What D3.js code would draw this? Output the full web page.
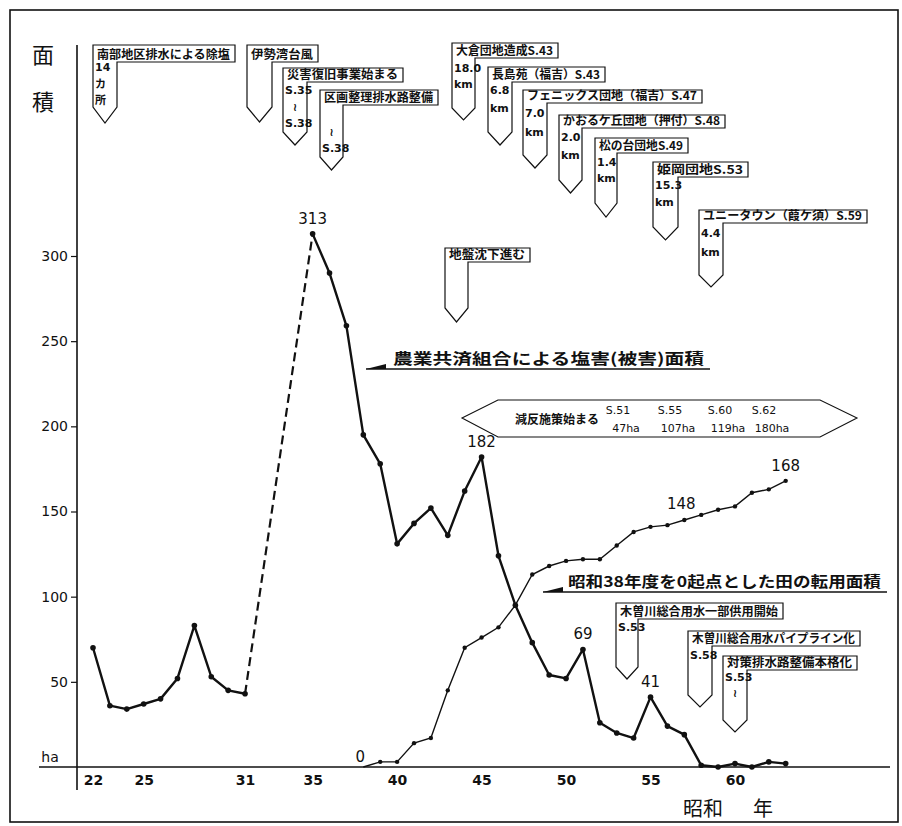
<!DOCTYPE html>
<html>
<head>
<meta charset="utf-8">
<script src="https://cdn.jsdelivr.net/npm/d3@7"></script>
<style>
  body { margin: 0; background: #fff; }
  svg { display: block; }
</style>
</head>
<body>
<div class="vis-chart"></div>
<script>
// 農業共済組合による塩害(被害)面積 (ha) -- 32~34年はデータなし(破線)
const damageYears = [22,23,24,25,26,27,28,29,30,31,
  35,36,37,38,39,40,41,42,43,44,45,46,47,48,49,50,51,52,53,54,55,56,57,58,59,60,61,62,63];
const damageValues = [70,36,34,37,40,52,83,53,45,43,
  313,290,259,195,178,131,143,152,136,162,182,124,95,73,54,52,69,26,20,17,41,24,19,1,0,2,0,3,2];

// 昭和38年度を0起点とした田の転用面積 (ha)
const convYears = [38,39,40,41,42,43,44,45,46,47,48,49,50,51,52,53,54,55,56,57,58,59,60,61,62,63];
const convValues = [0,3,3,14,17,45,70,76,82,95,113,118,121,122,122,130,138,141,142,145,148,151,153,161,163,168];

// 数値ラベルを付ける年
const damageLabelYears = [35,45,51,55];
const convLabelYears = [38,58,63];

const xTickYears = [22,25,31,35,40,45,50,55,60];
const yTickValues = [50,100,150,200,250,300];

// 減反
const gentanYears = ['S.51','S.55','S.60','S.62'];
const gentanAreas = ['47ha','107ha','119ha','180ha'];

// できごとの旗 (位置はレイアウト)
const flags = [
  {t:'南部地区排水による除塩', L:93, T:45, R:235, B:62, tr:117, tb:107, tip:123, rows:['14','カ','所'], ry:[71,88,104]},
  {t:'伊勢湾台風', L:247, T:45, R:318, B:62, tr:272, tb:107, tip:122, rows:[], ry:[]},
  {t:'災害復旧事業始まる', L:283, T:68, R:403, B:82, tr:307, tb:132, tip:145, rows:['S.35','≀','S.38'], ry:[94,111,127]},
  {t:'区画整理排水路整備', L:320, T:90, R:438, B:105, tr:343, tb:157, tip:170, rows:['≀','S.38'], ry:[136,152]},
  {t:'大倉団地造成S.43', L:452, T:43, R:558, B:58, tr:475, tb:108, tip:120, rows:['18.0','km'], ry:[72,88]},
  {t:'長島苑（福吉）S.43', L:488, T:67, R:605, B:82, tr:512, tb:132, tip:145, rows:['6.8','km'], ry:[94,112]},
  {t:'フェニックス団地（福吉）S.47', L:523, T:90, R:702, B:103, tr:547, tb:155, tip:168, rows:['7.0','km'], ry:[117,136]},
  {t:'かおるケ丘団地（押付）S.48', L:559, T:115, R:725, B:128, tr:582, tb:180, tip:193, rows:['2.0','km'], ry:[141,159]},
  {t:'松の台団地S.49', L:595, T:138, R:688, B:153, tr:617, tb:203, tip:217, rows:['1.4','km'], ry:[166,182]},
  {t:'姫岡団地S.53', L:653, T:162, R:748, B:177, tr:678, tb:227, tip:240, rows:['15.3','km'], ry:[189,206]},
  {t:'ユニータウン（葭ケ須）S.59', L:699, T:210, R:867, B:223, tr:723, tb:275, tip:287, rows:['4.4','km'], ry:[237,256]},
  {t:'地盤沈下進む', L:445, T:248, R:530, B:262, tr:468, tb:308, tip:322, rows:[], ry:[]},
  {t:'木曽川総合用水一部供用開始', L:616, T:603, R:783, B:619, tr:638, tb:667, tip:679, rows:['S.53'], ry:[631]},
  {t:'木曽川総合用水パイプライン化', L:688, T:631, R:860, B:646, tr:712, tb:695, tip:707, rows:['S.58'], ry:[659]},
  {t:'対策排水路整備本格化', L:723, T:656, R:857, B:670, tr:747, tb:720, tip:732, rows:['S.53','≀'], ry:[681,697]}
];

const draw = () => {
  const width = 902, height = 826;
  const jp = '"Noto Sans CJK JP", "Noto Sans", sans-serif';
  const num = '"DejaVu Sans", sans-serif';
  const ink = '#111';

  const svg = d3.select('.vis-chart').append('svg')
    .attr('width', width).attr('height', height);

  // 外枠
  svg.append('rect').attr('x', 10).attr('y', 10).attr('width', 888).attr('height', 812)
    .attr('fill', 'none').attr('stroke', ink).attr('stroke-width', 1.6);

  // 比例尺
  const x = d3.scaleLinear().domain([22, 60]).range([93, 735]);
  const y = d3.scaleLinear().domain([0, 300]).range([767, 256]);

  // 軸
  svg.append('line').attr('x1', 77).attr('x2', 77).attr('y1', 45).attr('y2', 790)
    .attr('stroke', ink).attr('stroke-width', 1.6);
  svg.append('line').attr('x1', 39).attr('x2', 890).attr('y1', y(0)).attr('y2', y(0))
    .attr('stroke', ink).attr('stroke-width', 1.6);

  const yAxis = d3.axisLeft(y).tickValues(yTickValues).tickSize(6).tickPadding(3);
  const gy = svg.append('g').attr('transform', 'translate(77,0)').call(yAxis);
  gy.select('.domain').remove();
  gy.selectAll('line').attr('stroke', ink).attr('stroke-width', 1.2);
  gy.selectAll('text').attr('font-family', num).attr('font-size', 14).attr('fill', ink);

  const xAxis = d3.axisBottom(x).tickValues(xTickYears).tickSize(0).tickPadding(8);
  const gx = svg.append('g').attr('transform', `translate(0,${y(0)})`).call(xAxis);
  gx.select('.domain').remove();
  gx.selectAll('text').attr('font-family', num).attr('font-size', 14).attr('font-weight', 'bold').attr('fill', ink);

  svg.append('text').attr('x', 50).attr('y', 762).attr('text-anchor', 'middle')
    .attr('font-family', num).attr('font-size', 14).attr('fill', ink).text('ha');

  // 軸タイトル
  svg.append('text').attr('x', 43).attr('y', 63).attr('text-anchor', 'middle')
    .attr('font-family', jp).attr('font-size', 22).attr('fill', ink).text('面');
  svg.append('text').attr('x', 43).attr('y', 110).attr('text-anchor', 'middle')
    .attr('font-family', jp).attr('font-size', 22).attr('fill', ink).text('積');
  svg.append('text').attr('x', 703).attr('y', 816).attr('text-anchor', 'middle')
    .attr('font-family', jp).attr('font-size', 20).attr('fill', ink).text('昭和');
  svg.append('text').attr('x', 763).attr('y', 816).attr('text-anchor', 'middle')
    .attr('font-family', jp).attr('font-size', 20).attr('fill', ink).text('年');

  // データ
  const damage = damageYears.map((yr, i) => ({year: yr, v: damageValues[i]}));
  const conv = convYears.map((yr, i) => ({year: yr, v: convValues[i]}));

  const line = d3.line().x(d => x(d.year)).y(d => y(d.v));

  const before = damage.filter(d => d.year <= 31);
  const after = damage.filter(d => d.year >= 35);
  const bridge = [before[before.length - 1], after[0]];

  // 転用面積(細線)
  svg.append('path').attr('d', line(conv)).attr('fill', 'none')
    .attr('stroke', ink).attr('stroke-width', 1.4);
  svg.selectAll('.conv-dot').data(conv.slice(1)).enter().append('circle')
    .attr('cx', d => x(d.year)).attr('cy', d => y(d.v)).attr('r', 2.2).attr('fill', ink);

  // 塩害面積(太線)
  [before, after].forEach(seg => {
    svg.append('path').attr('d', line(seg)).attr('fill', 'none')
      .attr('stroke', ink).attr('stroke-width', 2.4).attr('stroke-linejoin', 'round');
  });
  svg.append('path').attr('d', line(bridge)).attr('fill', 'none')
    .attr('stroke', ink).attr('stroke-width', 2.2).attr('stroke-dasharray', '9,5');
  svg.selectAll('.dmg-dot').data(damage).enter().append('circle')
    .attr('cx', d => x(d.year)).attr('cy', d => y(d.v)).attr('r', 2.8).attr('fill', ink);

  // 数値ラベル
  damage.filter(d => damageLabelYears.includes(d.year)).forEach(d => {
    svg.append('text').attr('x', x(d.year)).attr('y', y(d.v) - 10).attr('text-anchor', 'middle')
      .attr('font-family', num).attr('font-size', 15).attr('fill', ink).text(d.v);
  });
  conv.filter(d => convLabelYears.includes(d.year)).forEach(d => {
    let dx = 0, dy = -10;
    if (d.year === 38) { dx = -3; dy = -5; }
    if (d.year === 58) { dx = -20; dy = -6; }
    svg.append('text').attr('x', x(d.year) + dx).attr('y', y(d.v) + dy).attr('text-anchor', 'middle')
      .attr('font-family', num).attr('font-size', 15).attr('fill', ink).text(d.v);
  });

  // 凡例ラベル(矢印付き下線)
  const legend = (x0, x1, ly, tx, t) => {
    svg.append('line').attr('x1', x0).attr('x2', x1).attr('y1', ly).attr('y2', ly)
      .attr('stroke', ink).attr('stroke-width', 1.6);
    svg.append('path').attr('d', `M${x0},${ly} L${x0 + 20},${ly - 5} L${x0 + 20},${ly} Z`).attr('fill', ink);
    svg.append('text').attr('x', tx).attr('y', ly - 5).attr('font-family', jp).attr('font-weight', 'bold')
      .attr('font-size', 15).attr('fill', ink).attr('textLength', x1 - tx - 6)
      .attr('lengthAdjust', 'spacingAndGlyphs').text(t);
  };
  legend(366, 710, 369, 393, '農業共済組合による塩害(被害)面積');
  legend(543, 887, 592, 568, '昭和38年度を0起点とした田の転用面積');

  // 旗
  flags.forEach(f => {
    const tipX = (f.L + f.tr) / 2;
    svg.append('path')
      .attr('d', `M${f.L},${f.T} H${f.R} V${f.B} H${f.tr} V${f.tb} L${tipX},${f.tip} L${f.L},${f.tb} Z`)
      .attr('fill', '#fff').attr('stroke', ink).attr('stroke-width', 1.2);
    svg.append('text').attr('x', f.L + 4).attr('y', f.B - 3)
      .attr('font-family', jp).attr('font-weight', 'bold').attr('font-size', 12).attr('fill', ink)
      .attr('textLength', f.R - f.L - 9).attr('lengthAdjust', 'spacingAndGlyphs').text(f.t);
    f.rows.forEach((r, i) => {
      svg.append('text').attr('x', r === '≀' ? tipX : f.L + 2).attr('y', f.ry[i])
        .attr('text-anchor', r === '≀' ? 'middle' : 'start')
        .attr('font-family', r === 'カ' || r === '所' ? jp : num)
        .attr('font-weight', 'bold').attr('font-size', 11).attr('fill', ink).text(r);
    });
  });

  // 減反施策
  const gx0 = 462, gx1 = 498, gx2 = 820, gx3 = 857, gTop = 400, gMid = 418, gBot = 437;
  svg.append('path').attr('d', `M${gx0},${gMid} L${gx1},${gTop} H${gx2} L${gx3},${gMid} L${gx2},${gBot} H${gx1} Z`)
    .attr('fill', '#fff').attr('stroke', ink).attr('stroke-width', 1.1);
  svg.append('text').attr('x', 557).attr('y', 424).attr('text-anchor', 'middle')
    .attr('font-family', jp).attr('font-weight', 'bold').attr('font-size', 12).attr('fill', ink).text('減反施策始まる');
  const gCols = [618, 670, 720, 764];
  gentanYears.forEach((t, i) => {
    svg.append('text').attr('x', gCols[i]).attr('y', 414).attr('text-anchor', 'middle')
      .attr('font-family', num).attr('font-size', 11).attr('fill', ink).text(t);
    svg.append('text').attr('x', gCols[i] + 8).attr('y', 432).attr('text-anchor', 'middle')
      .attr('font-family', num).attr('font-size', 11).attr('fill', ink).text(gentanAreas[i]);
  });
};

draw();
</script>
</body>
</html>
